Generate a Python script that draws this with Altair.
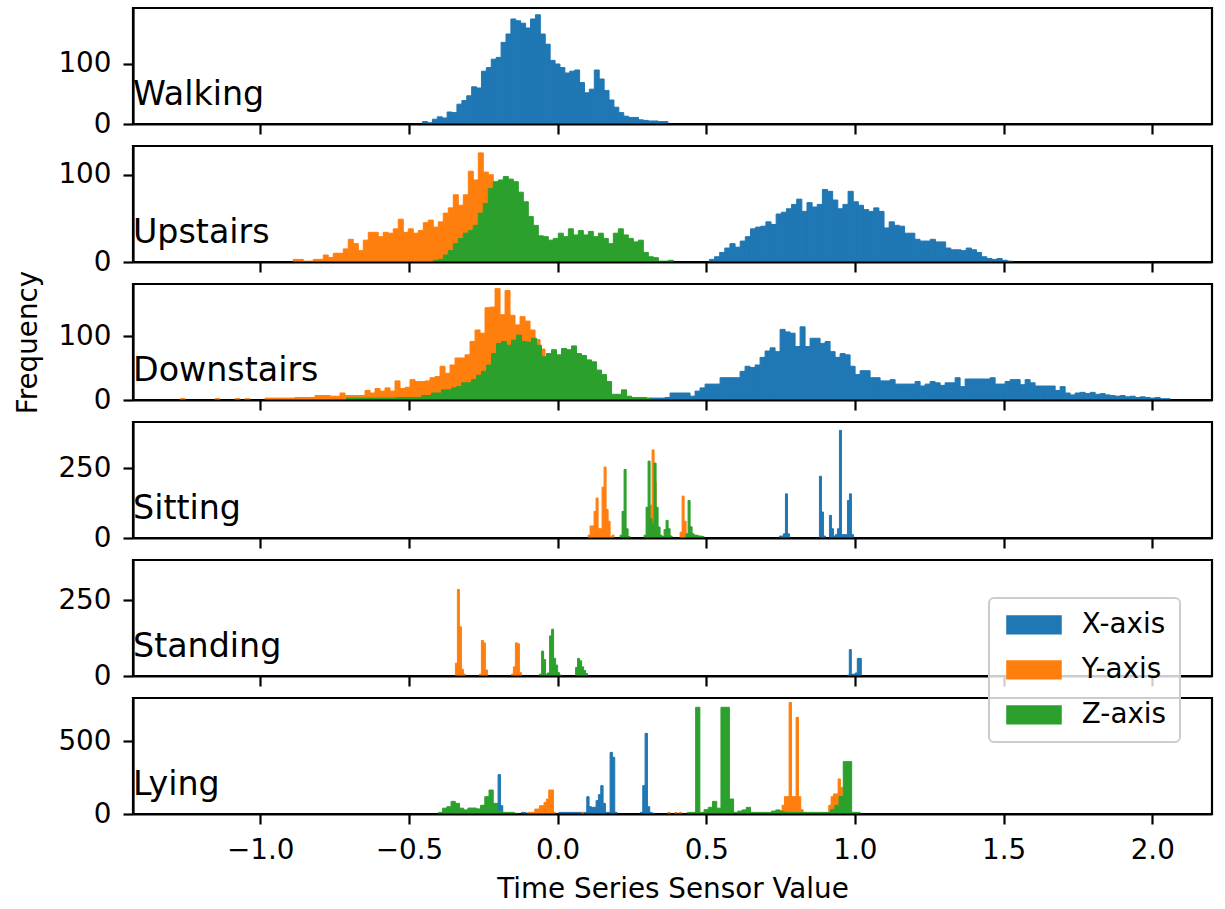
import altair as alt
import pandas as pd

ACTIVITIES = ["Walking", "Upstairs", "Downstairs", "Sitting", "Standing", "Lying"]
AXES = ["X-axis", "Y-axis", "Z-axis"]
COLORS = ["#1f77b4", "#ff7f0e", "#2ca02c"]
Y_MAX = [193.3, 132.9, 182.3, 415, 382, 798]
Y_TICKS = [[0, 100], [0, 100], [0, 100], [0, 250], [0, 250], [0, 500]]
X_TICKS = [-1.0, -0.5, 0.0, 0.5, 1.0, 1.5, 2.0]
X_DOMAIN = [-1.428, 2.201]

# histogram counts (bin start, bin width, counts per bin)
WALKING_X = [4, 2, 8, 12, 10, 20, 19, 33, 39, 47, 62, 60, 88, 94, 108, 111, 136, 150, 175, 172,
             168, 160, 175, 182, 150, 133, 106, 100, 94, 85, 88, 90, 69, 52, 58, 90, 75, 56, 40, 28,
             19, 13, 11, 11, 7, 6, 5, 5, 4, 4]

UPSTAIRS_X = [3, 6, 11, 16, 21, 17, 24, 29, 38, 40, 41, 46, 43, 55, 57, 61, 66, 72, 58, 68,
              63, 66, 83, 81, 71, 61, 66, 81, 69, 65, 60, 58, 62, 58, 39, 46, 42, 41, 33, 33,
              26, 24, 24, 26, 23, 23, 16, 14, 14, 13, 16, 14, 11, 6, 4, 3, 4, 2, 1]
UPSTAIRS_Y = [3, 3, 1, 1, 3, 3, 8, 5, 10, 10, 15, 26, 21, 13, 25, 34, 34, 29, 34, 33,
              38, 49, 34, 38, 33, 36, 45, 48, 40, 46, 56, 62, 77, 65, 77, 104, 94, 125, 103, 100,
              90, 70, 50, 30]
UPSTAIRS_Z = [2, 3, 8, 13, 21, 27, 33, 36, 42, 56, 67, 84, 92, 94, 98, 95, 92, 80, 69, 52,
              42, 30, 29, 25, 27, 33, 29, 38, 31, 36, 31, 35, 29, 33, 27, 21, 33, 38, 31, 27,
              23, 25, 11, 6, 5, 1, 1, 2]

DOWNSTAIRS_X = [3, 3, 3, 4, 11, 11, 11, 11, 6, 14, 19, 25, 25, 25, 35, 35, 35, 35, 45, 53,
                51, 55, 67, 77, 82, 76, 111, 107, 105, 84, 115, 84, 97, 97, 89, 92, 76, 67, 73, 71,
                53, 40, 46, 46, 35, 35, 30, 30, 32, 25, 25, 25, 25, 29, 22, 25, 29, 27, 23, 27,
                27, 35, 21, 33, 33, 33, 33, 33, 35, 25, 25, 29, 32, 32, 24, 32, 27, 22, 22, 22,
                22, 15, 21, 11, 8, 11, 12, 10, 12, 9, 10, 8, 7, 6, 7, 5, 6, 4, 5, 4,
                3, 4, 2, 2]
DOWNSTAIRS_Y = [2, 0, 0, 0, 0, 0, 0, 2, 0, 0, 0, 2, 0, 2, 0, 0, 0, 3, 3, 3,
                3, 3, 3, 4, 4, 4, 4, 7, 7, 7, 6, 6, 11, 7, 7, 7, 7, 15, 11, 18,
                14, 19, 14, 30, 18, 20, 32, 29, 29, 30, 35, 37, 53, 42, 55, 66, 66, 71, 92, 110,
                105, 145, 146, 175, 134, 172, 133, 118, 131, 124, 110, 95, 80, 60, 45, 30, 15, 5]
DOWNSTAIRS_Z = [3, 3, 3, 3, 3, 3, 3, 3, 3, 3, 4, 4, 4, 4, 4, 7, 7, 11, 11, 16,
                16, 19, 21, 27, 27, 32, 39, 45, 55, 73, 89, 92, 86, 94, 102, 92, 91, 97, 86, 68,
                73, 79, 71, 81, 79, 85, 73, 70, 63, 60, 47, 40, 29, 9, 9, 16, 6, 4, 4, 4, 3]

SITTING_X = [7, 7, 15, 158, 15, 0, 0, 0, 0, 0, 0, 0, 0, 0, 0, 0, 0, 0, 0, 0,
             221, 93, 7, 0, 0, 81, 33, 7, 12, 33, 385, 12, 12, 12, 134, 158, 12]
SITTING_Y = [10, 43, 43, 95, 143, 33, 33, 182, 254, 102, 60, 4, 10, 0, 0, 0, 0, 0, 0, 0,
             0, 0, 0, 0, 0, 0, 0, 0, 0, 0, 60, 117, 315, 200, 40, 0, 0, 0, 0, 0,
             0, 0, 0, 0, 0, 0, 21, 150, 60, 10, 5]
SITTING_Z = [10, 95, 245, 33, 5, 0, 0, 0, 0, 0, 0, 0, 10, 110, 275, 69, 50, 268, 110, 39,
             10, 5, 30, 63, 33, 7, 0, 0, 0, 0, 0, 0, 0, 15, 134, 40, 15, 10, 10, 7, 7, 5]

STANDING_X = [3, 87, 6, 6, 10, 58, 58]
STANDING_Y = [42, 285, 162, 22, 6, 0, 0, 0, 0, 0, 0, 0, 6, 117, 109, 20, 0, 0, 0, 0,
              0, 0, 0, 0, 0, 0, 0, 0, 6, 30, 109, 106, 11]
STANDING_Z = [6, 82, 54, 6, 10, 132, 154, 58, 36, 11, 3, 0, 0, 0, 0, 0, 0, 0, 28, 58,
              50, 30, 18, 8]

LYING_X = [69, 69, 271, 57, 5, 0, 0, 0, 0, 0, 0, 0, 11, 11, 0, 0, 0, 0, 0, 0,
           0, 0, 0, 0, 0, 0, 0, 0, 11, 11, 11, 11, 11, 11, 11, 11, 11, 11, 11, 11,
           119, 50, 46, 46, 92, 133, 195, 73, 11, 11, 424, 390, 11, 0, 0, 0, 0, 0, 0, 0,
           0, 0, 0, 11, 195, 555, 50, 11, 5]
LYING_Y_A = [11, 11, 11, 34, 34, 57, 57, 80, 103, 165, 165, 11]
LYING_Y_B = [11]
LYING_Y_C = [11, 0, 0, 11, 0, 11]
LYING_Y_D = [11, 23, 23, 60, 119, 119, 768, 119, 119, 665, 119, 30]
LYING_Y_E = [60, 119, 138, 138, 241, 183, 50]
LYING_Z_A = [11, 40, 50, 87, 73, 40, 28, 41, 41, 35, 60, 119, 165, 73, 20, 11, 11, 11, 5]
LYING_Z_B = [11, 11, 734, 11, 30, 46, 87, 40, 734, 734, 103, 11, 20, 28, 46, 11, 11, 11, 11, 11,
             20, 28, 18, 11, 11, 11, 11, 11, 11, 11, 11, 11, 11, 11, 30, 60, 120, 360, 360, 11, 11]

SEGMENTS = [
    ("Walking", "X-axis", -0.454, 0.0165, WALKING_X),
    ("Upstairs", "X-axis", 0.5106, 0.017275, UPSTAIRS_X),
    ("Upstairs", "Y-axis", -0.889, 0.01682, UPSTAIRS_Y),
    ("Upstairs", "Z-axis", -0.418, 0.01682, UPSTAIRS_Z),
    ("Downstairs", "X-axis", 0.311, 0.01682, DOWNSTAIRS_X),
    ("Downstairs", "Y-axis", -1.27, 0.01682, DOWNSTAIRS_Y),
    ("Downstairs", "Z-axis", -0.71, 0.01682, DOWNSTAIRS_Z),
    ("Sitting", "X-axis", 0.7462, 0.006727, SITTING_X),
    ("Sitting", "Y-axis", 0.1026, 0.006727, SITTING_Y),
    ("Sitting", "Z-axis", 0.2102, 0.006727, SITTING_Z),
    ("Standing", "X-axis", 0.9744, 0.006727, STANDING_X),
    ("Standing", "Y-axis", -0.3437, 0.006727, STANDING_Y),
    ("Standing", "Z-axis", -0.0605, 0.006727, STANDING_Z),
    ("Lying", "X-axis", -0.2158, 0.007848, LYING_X),
    ("Lying", "Y-axis", -0.1003, 0.007848, LYING_Y_A),
    ("Lying", "Y-axis", 0.0802, 0.007848, LYING_Y_B),
    ("Lying", "Y-axis", 0.3706, 0.007848, LYING_Y_C),
    ("Lying", "Y-axis", 0.7316, 0.007848, LYING_Y_D),
    ("Lying", "Y-axis", 0.9121, 0.007848, LYING_Y_E),
    ("Lying", "Z-axis", -0.4008, 0.014183, LYING_Z_A),
    ("Lying", "Z-axis", 0.4360, 0.014183, LYING_Z_B),
]

rows = []
for act, ax, start, width, counts in SEGMENTS:
    for k, c in enumerate(counts):
        if c > 0:
            rows.append({"activity": act, "axis": ax,
                         "x0": start + k * width, "x1": start + (k + 1) * width,
                         "count": c})
df = pd.DataFrame(rows)

FONT = "DejaVu Sans"
FS = 27.8
PW, PH = 1079, 116

color_scale = alt.Scale(domain=AXES, range=COLORS)
legend = alt.Legend(
    orient="none", legendX=856, legendY=590, title=None,
    symbolType="M-1,-1L4.73,-1L4.73,1L-1,1Z", symbolSize=376,
    symbolStrokeWidth=0, labelFontSize=FS, labelFont=FONT, labelColor="black",
    labelOffset=52, padding=13, rowPadding=16, strokeColor="#cccccc",
    fillColor="rgba(255,255,255,0.8)", cornerRadius=5,
)

panels = []
for i, act in enumerate(ACTIVITIES):
    bottom = i == len(ACTIVITIES) - 1
    d = df[df["activity"] == act]
    xaxis_kw = dict(values=X_TICKS, format=".1f", labels=bottom, tickSize=10, tickWidth=2.2,
                    tickColor="black", domainColor="black", domainWidth=2.2, grid=False,
                    labelFontSize=FS, labelPadding=12, labelColor="black", labelFont=FONT,
                    zindex=1, titleFontSize=FS, titleFontWeight="normal", titleFont=FONT,
                    titleColor="black", titlePadding=12)
    yaxis_kw = dict(values=Y_TICKS[i], tickSize=10, tickWidth=2.2, tickColor="black",
                    domainColor="black", domainWidth=2.2, grid=False, labelFontSize=FS,
                    labelPadding=12, labelColor="black", labelFont=FONT, zindex=1,
                    titleFontSize=FS, titleFontWeight="normal", titleFont=FONT,
                    titleColor="black", titlePadding=15)
    xtitle = "Time Series Sensor Value" if bottom else None
    ytitle = "Frequency" if i == 2 else None
    bars = alt.Chart(d).mark_bar(strokeWidth=1.0, clip=True).encode(
        x=alt.X("x0:Q", title=xtitle, scale=alt.Scale(domain=X_DOMAIN, nice=False, zero=False),
                axis=alt.Axis(**xaxis_kw)),
        x2="x1:Q",
        y=alt.Y("count:Q", title=ytitle, scale=alt.Scale(domain=[0, Y_MAX[i]], nice=False),
                axis=alt.Axis(**yaxis_kw)),
        y2=alt.datum(0),
        color=alt.Color("axis:N", scale=color_scale, legend=legend),
        stroke=alt.Stroke("axis:N", scale=color_scale, legend=None),
    )
    label = alt.Chart(pd.DataFrame({"t": [act]})).mark_text(
        align="left", baseline="alphabetic", fontSize=33.3, font=FONT, color="black"
    ).encode(text="t:N", x=alt.value(0), y=alt.value(PH - 19.5))
    panels.append(alt.layer(bars, label).properties(width=PW, height=PH))

chart = alt.vconcat(*panels, spacing=22, bounds="flush").resolve_scale(
    y="independent", x="independent"
).properties(
    padding={"left": 13, "top": 6, "right": 10, "bottom": 0}
).configure(font=FONT).configure_view(
    stroke="black", strokeWidth=2.2
).configure_legend(strokeWidth=2)

chart.save("out.html", embed_options={"renderer": "svg", "actions": False})
